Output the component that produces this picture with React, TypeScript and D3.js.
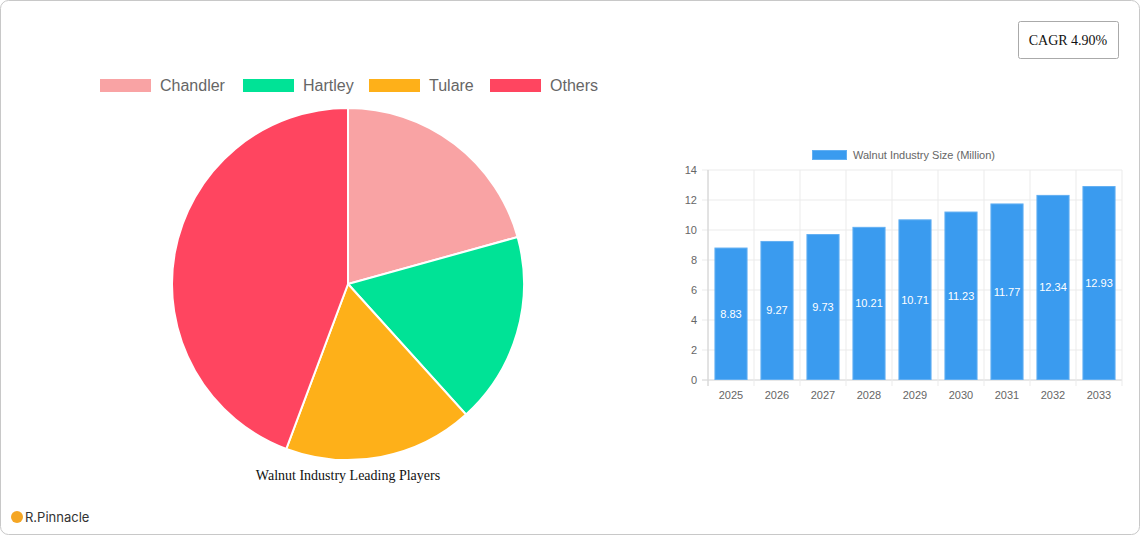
import React from "react";
import * as d3 from "d3";

const pieLabels = ["Chandler", "Hartley", "Tulare", "Others"];
const pieValues = [20.7, 17.6, 17.4, 44.3];
const pieColors = ["#F9A3A4", "#00E396", "#FEB019", "#FF4560"];

const years = ["2025", "2026", "2027", "2028", "2029", "2030", "2031", "2032", "2033"];
const sizes = [8.83, 9.27, 9.73, 10.21, 10.71, 11.23, 11.77, 12.34, 12.93];
const yTicks = [0, 2, 4, 6, 8, 10, 12, 14];

const W = 1140;
const H = 535;

const App = () => {
  // pie
  const cx = 348;
  const cy = 284;
  const r = 176;
  const arcs = d3.pie<number>().sort(null)(pieValues);
  const arcGen = d3.arc<d3.PieArcDatum<number>>().innerRadius(0).outerRadius(r);

  const legendX = [100, 243, 369, 490];

  // bars
  const left = 708;
  const right = 1122;
  const top = 170;
  const bottom = 380;
  const x = d3.scaleBand().domain(years).range([left, right]).paddingInner(0).paddingOuter(0);
  const y = d3.scaleLinear().domain([0, 14]).range([bottom, top]);
  const bw = x.bandwidth() * 0.72;

  const font = "Liberation Sans, Arial, sans-serif";

  return (
    <svg
      width={W}
      height={H}
      style={{ position: "absolute", left: 0, top: 0, background: "#fff" }}
    >
      <rect x={0.5} y={0.5} width={W - 1} height={H - 1} rx={8} fill="#fff" stroke="#c8c8c8" />

      {/* pie legend */}
      {pieLabels.map((d, i) => (
        <g key={d}>
          <rect x={legendX[i]} y={79} width={51} height={13} fill={pieColors[i]} />
          <text x={legendX[i] + 60} y={91} fontSize={16} fill="#666" fontFamily={font}>
            {d}
          </text>
        </g>
      ))}

      <g transform={`translate(${cx},${cy})`}>
        {arcs.map((a, i) => (
          <path key={i} d={arcGen(a)!} fill={pieColors[i]} stroke="#fff" strokeWidth={2} />
        ))}
      </g>
      <text x={cx} y={480} textAnchor="middle" fontSize={14} fontFamily="Liberation Serif, serif" fill="#111">
        Walnut Industry Leading Players
      </text>

      {/* CAGR box */}
      <rect x={1018.5} y={21.5} width={100} height={37} rx={2} fill="#fff" stroke="#aaa" />
      <text x={1068} y={45} textAnchor="middle" fontSize={14} fontFamily="Liberation Serif, serif" fill="#111">
        CAGR 4.90%
      </text>

      {/* bar legend */}
      <rect x={812.5} y={150.5} width={34} height={9} fill="#3A9BEF" stroke="#62AFF2" />
      <text x={853} y={159} fontSize={11} fill="#666" fontFamily={font}>
        Walnut Industry Size (Million)
      </text>

      {/* grid */}
      {yTicks.map((t) => (
        <g key={t}>
          <line x1={left - 6} x2={right} y1={y(t)} y2={y(t)} stroke={t === 0 ? "#d0d0d0" : "#ebebeb"} />
          <text x={left - 11} y={y(t) + 4} textAnchor="end" fontSize={11} fill="#666" fontFamily={font}>
            {t}
          </text>
        </g>
      ))}
      {years.map((yr) => (
        <line key={yr} x1={x(yr)!} x2={x(yr)!} y1={top} y2={bottom + 6} stroke="#ebebeb" />
      ))}
      <line x1={right} x2={right} y1={top} y2={bottom + 6} stroke="#ebebeb" />
      <line x1={left} x2={left} y1={top} y2={bottom + 6} stroke="#d0d0d0" />

      {/* bars */}
      {sizes.map((v, i) => {
        const bx = x(years[i])! + (x.bandwidth() - bw) / 2;
        return (
          <g key={years[i]}>
            <rect
              x={bx + 0.5}
              y={y(v) + 0.5}
              width={bw - 1}
              height={bottom - y(v) - 1}
              fill="#3A9BEF"
              stroke="#62AFF2"
            />
            <text
              x={bx + bw / 2}
              y={(y(v) + bottom) / 2 + 4}
              textAnchor="middle"
              fontSize={11}
              fill="#fff"
              fontFamily={font}
            >
              {v.toFixed(2)}
            </text>
          </g>
        );
      })}
      {years.map((yr) => (
        <text
          key={yr}
          x={x(yr)! + x.bandwidth() / 2}
          y={399}
          textAnchor="middle"
          fontSize={11}
          fill="#666"
          fontFamily={font}
        >
          {yr}
        </text>
      ))}

      {/* logo */}
      <circle cx={17} cy={517} r={6} fill="#F5A623" />
      <text x={25} y={522} fontSize={13} fill="#333" fontFamily="Inter, Noto Sans, sans-serif">
        R.Pinnacle
      </text>
    </svg>
  );
};

export default App;
